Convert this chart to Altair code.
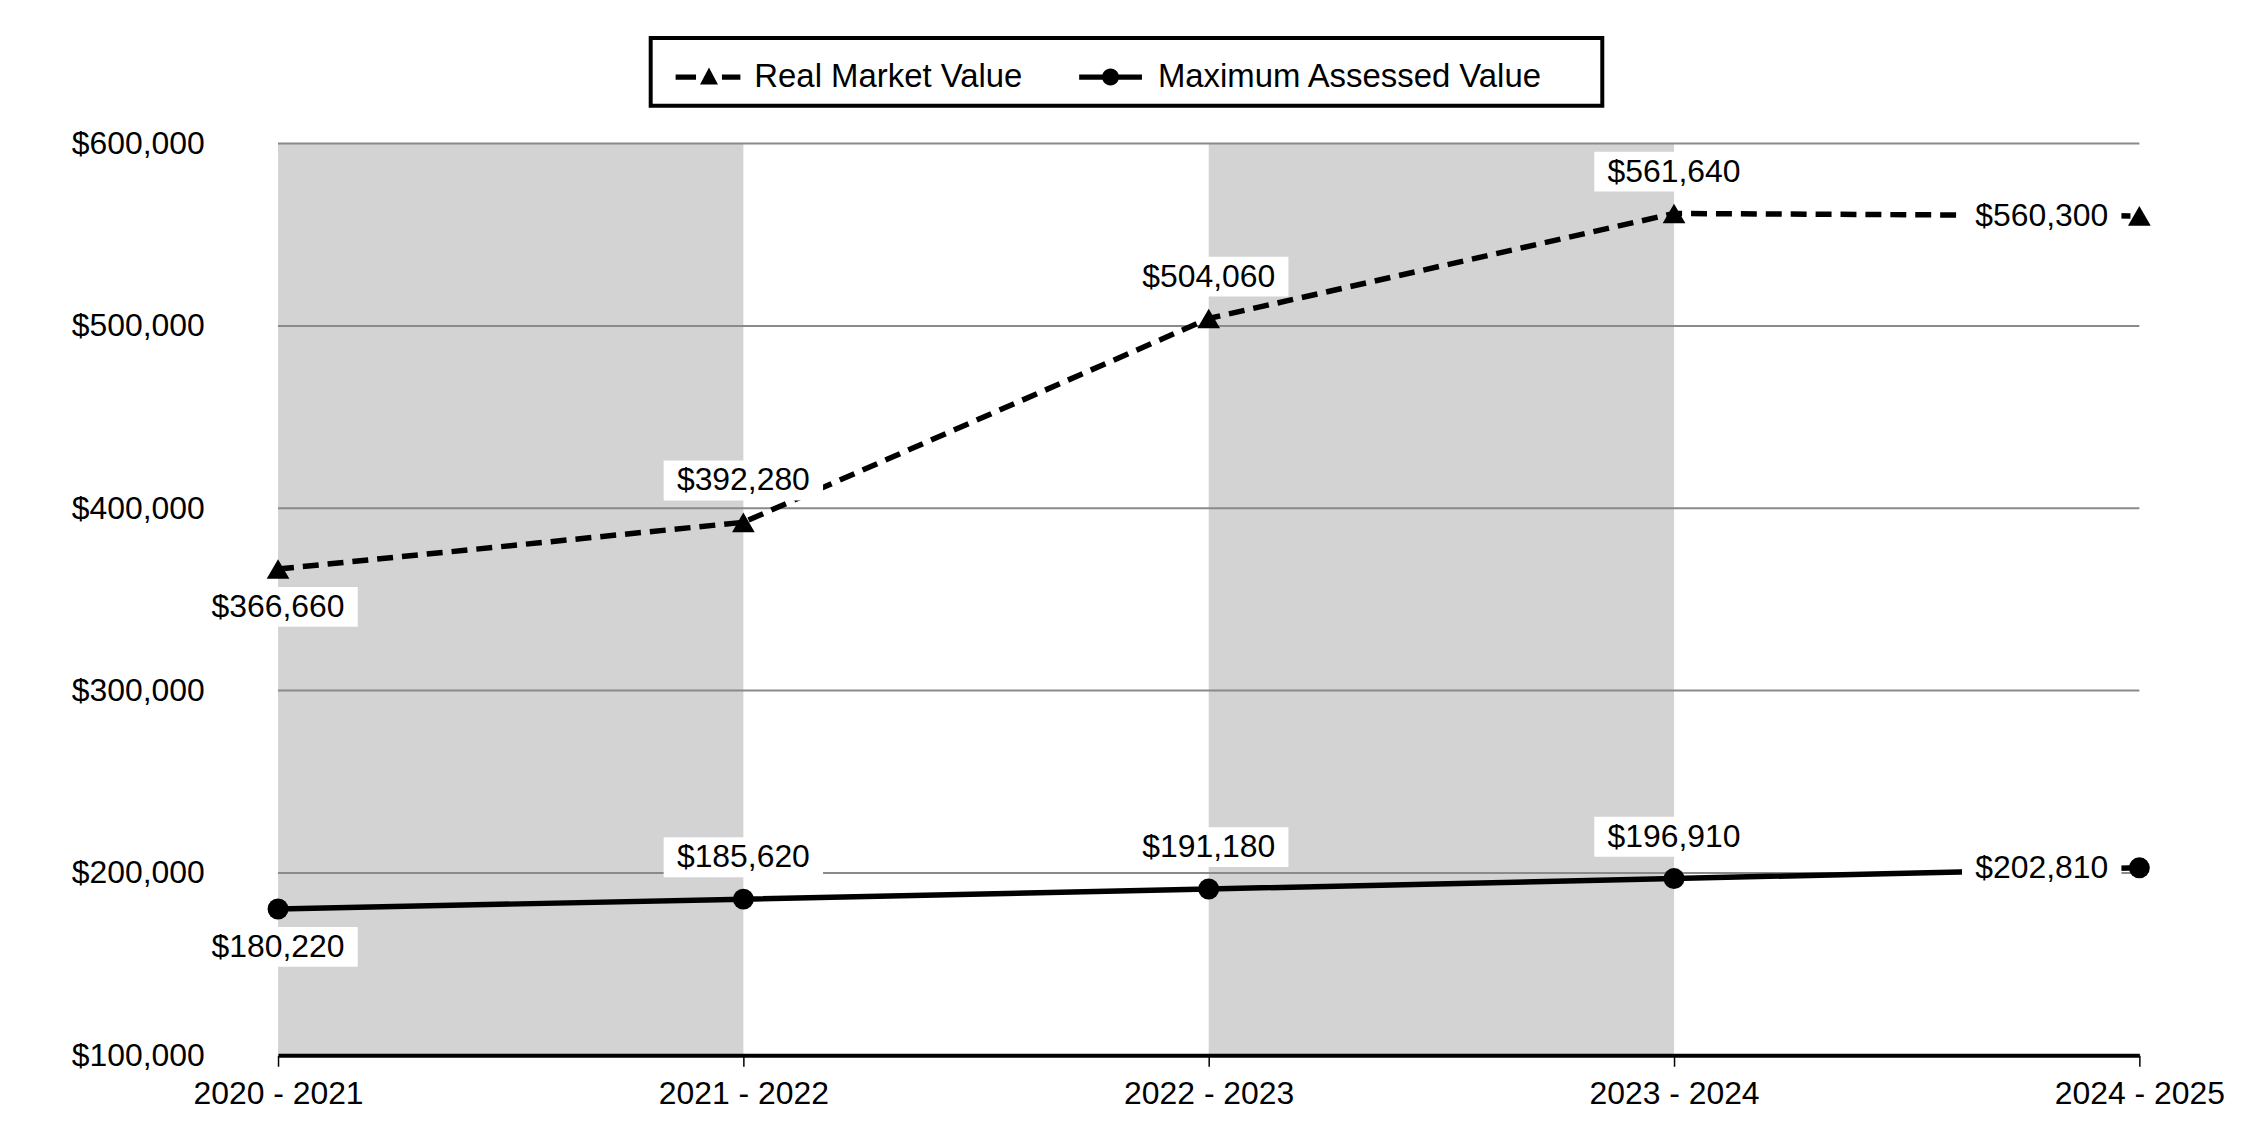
import json
import altair as alt
import pandas as pd

# ---------------- data ----------------
years = ["2020 - 2021", "2021 - 2022", "2022 - 2023", "2023 - 2024", "2024 - 2025"]
real_market = [366660, 392280, 504060, 561640, 560300]
max_assessed = [180220, 185620, 191180, 196910, 202810]
series_names = ["Real Market Value", "Maximum Assessed Value"]
band_start = [0, 2]
band_end = [1, 3]
grid_values = [200000, 300000, 400000, 500000, 600000]
y_ticks = [100000, 200000, 300000, 400000, 500000, 600000]

rows = []
for i, y in enumerate(years):
    rows.append({"idx": i, "year": y, "series": series_names[0], "value": real_market[i]})
    rows.append({"idx": i, "year": y, "series": series_names[1], "value": max_assessed[i]})
df = pd.DataFrame(rows)
bands_df = pd.DataFrame({"idx": band_start, "idx_end": band_end})
grid_df = pd.DataFrame({"value": grid_values})

# ---------------- style ----------------
W, H = 1868, 915
FONT = "Liberation Sans"
FS = 32
LFS = 33
LPAD = 11.5

label_expr = json.dumps(years) + "[datum.value]"

x_axis = alt.Axis(values=list(range(len(years))), labelExpr=label_expr, title=None,
                  grid=False, domainColor="black", domainWidth=4, tickColor="black",
                  tickWidth=1.5, tickSize=11, labelPadding=12, labelFontSize=FS,
                  labelFont=FONT, labelColor="black", labelFlush=False,
                  labelOverlap=False, zindex=1)
y_axis = alt.Axis(values=y_ticks, format="$,.0f", title=None, grid=False, ticks=False,
                  domain=False, labelPadding=74, labelFontSize=FS, labelFont=FONT,
                  labelColor="black", labelFlush=False, labelOverlap=False)

x_enc = alt.X("idx:Q", scale=alt.Scale(domain=[0, len(years) - 1], nice=False, zero=False), axis=x_axis)
y_enc = alt.Y("value:Q", scale=alt.Scale(domain=[100000, 600000], nice=False, zero=False), axis=y_axis)

# legend glyph paths (pixel values converted to symbol units)
SYM = 55
U = SYM / 2.0
SH = -(LPAD - 8)  # horizontal shift of glyphs to compensate legend padding


def P(x, y):
    return f"{(x + SH) / U:.3f},{y / U:.3f}"


def rect_path(x0, x1, y0, y1):
    return f"M{P(x0, y0)}L{P(x1, y0)}L{P(x1, y1)}L{P(x0, y1)}Z"


tri_glyph = (rect_path(-10.5, 10.0, -2.6, 2.6)
             + f"M{P(23, -9.5)}L{P(32, 7.5)}L{P(14, 7.5)}Z"
             + rect_path(36.0, 54.5, -2.6, 2.6))
r = 8.5 / U
circ_glyph = (rect_path(-10.5, 52.5, -2.6, 2.6)
              + f"M{P(21 - 8.5, 0)}A{r:.3f},{r:.3f} 0 1 1 {P(21 + 8.5, 0)}"
              + f"A{r:.3f},{r:.3f} 0 1 1 {P(21 - 8.5, 0)}Z")

BOX = "M-1,-0.25L1,-0.25L1,0.25L-1,0.25Z"
BOX_SIZE = 160 ** 2

# ---------------- layers ----------------
bands = alt.Chart(bands_df).mark_rect(color="#d3d3d3").encode(
    x=x_enc, x2="idx_end:Q", y=alt.value(0), y2=alt.value(H))

grid = alt.Chart(grid_df).mark_rule(color="#8a8a8a", strokeWidth=2).encode(y=y_enc)

base = alt.Chart(df)
rmv = base.transform_filter(alt.datum.series == series_names[0])
mav = base.transform_filter(alt.datum.series == series_names[1])

line_rmv = rmv.mark_line(color="black", strokeWidth=5.5, strokeDash=[16, 9]).encode(x=x_enc, y=y_enc)
line_mav = mav.mark_line(color="black", strokeWidth=5.5).encode(x=x_enc, y=y_enc)
pts_rmv = rmv.mark_point(shape="triangle-up", filled=True, size=520, color="black", opacity=1).encode(x=x_enc, y=y_enc)
pts_mav = mav.mark_point(shape="circle", filled=True, size=440, color="black", opacity=1).encode(x=x_enc, y=y_enc)

last = len(years) - 1
groups = [
    ("datum.idx == 0", 0, 38),
    (f"datum.idx > 0 && datum.idx < {last}", 0, -42),
    (f"datum.idx == {last}", -98, 0),
]
label_layers = []
for cond, dx, dy in groups:
    sub = base.transform_filter(cond)
    box = sub.mark_point(shape=BOX, size=BOX_SIZE, filled=True, color="white", opacity=1,
                         strokeWidth=0, xOffset=dx, yOffset=dy).encode(x=x_enc, y=y_enc)
    txt = sub.mark_text(font=FONT, fontSize=FS, color="black", align="center",
                        baseline="middle", dx=dx, dy=dy).encode(
        x=x_enc, y=y_enc, text=alt.Text("value:Q", format="$,.0f"))
    label_layers += [box, txt]

legend_layer = base.mark_point(opacity=0, filled=True, color="black").encode(
    x=x_enc, y=y_enc,
    shape=alt.Shape("series:N",
                    scale=alt.Scale(domain=series_names, range=[tri_glyph, circ_glyph]),
                    legend=alt.Legend(orient="none", legendX=374, legendY=-106,
                                      direction="horizontal", columns=2,
                                      title=".", titleOrient="right", titlePadding=46,
                                      titleFontSize=4, titleColor="white", titleOpacity=0,
                                      padding=LPAD, strokeColor="black",
                                      fillColor="white", symbolSize=SYM * SYM,
                                      symbolFillColor="black", symbolStrokeWidth=0,
                                      symbolOpacity=1, labelFontSize=LFS, labelFont=FONT,
                                      labelColor="black", labelOffset=41 - (LPAD - 8),
                                      labelLimit=900)))

chart = alt.layer(bands, grid, line_rmv, line_mav, pts_rmv, pts_mav, *label_layers, legend_layer).properties(
    width=W, height=H,
    background="white",
    padding={"left": 271, "top": 134, "right": 103, "bottom": 83},
    autosize=alt.AutoSizeParams(type="none"),
).configure_view(strokeWidth=0, stroke="transparent").configure_legend(
    strokeWidth=4, columnPadding=43)

chart.save("out.html", embed_options={"renderer": "svg", "actions": False})
